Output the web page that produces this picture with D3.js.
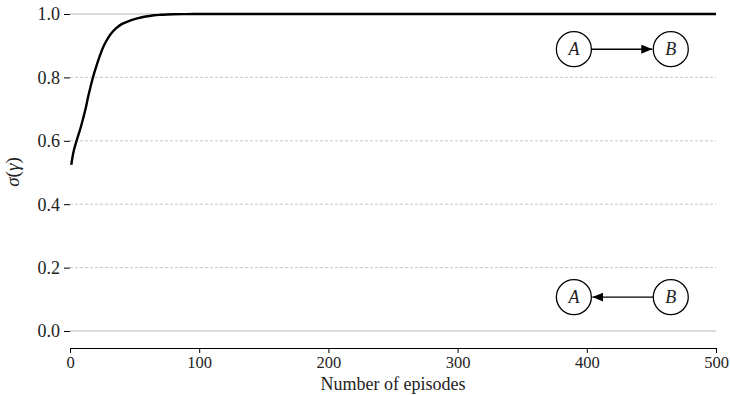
<!DOCTYPE html>
<html><head><meta charset="utf-8">
<script src="https://cdn.jsdelivr.net/npm/d3@7"></script>
<style>body{margin:0;background:#fff}svg{display:block}text{font-family:"Liberation Serif",serif;}</style>
</head><body><svg id="c" width="730" height="395"></svg>
<script>
const episodes = [1,2,3,4,6,8,10,12,14,16,18,20,22,24,26,28,30,33,36,40,45,50,55,60,65,70,75,80,90,100,150,200,250,300,350,400,450,500];
const sigmaGamma = [0.524,0.55,0.57,0.585,0.612,0.638,0.668,0.70,0.738,0.772,0.803,0.83,0.855,0.878,0.898,0.914,0.928,0.944,0.956,0.968,0.977,0.984,0.989,0.993,0.996,0.9975,0.9985,0.9992,0.9997,1.0,1.0,1.0,1.0,1.0,1.0,1.0,1.0,1.0];
const xTicks = [0,100,200,300,400,500];
const yTicks = [0.0,0.2,0.4,0.6,0.8,1.0];
const graphs = [
  {y:0.889, from:"A", to:"B"},
  {y:0.107, from:"B", to:"A"}
];
const nodeX = {A:390, B:465};

const FONT = "'Liberation Serif', serif";
const svg = d3.select("#c");
const x = d3.scaleLinear().domain([0,500]).range([70,716]);
const y = d3.scaleLinear().domain([0,1]).range([331,14]);

const defs = svg.append("defs");
defs.append("marker").attr("id","arr").attr("viewBox","0 0 10 10").attr("refX",10).attr("refY",5)
  .attr("markerWidth",11).attr("markerHeight",9).attr("markerUnits","userSpaceOnUse").attr("orient","auto")
  .attr("preserveAspectRatio","none")
  .append("path").attr("d","M0,0L10,5L0,10Z").attr("fill","#000");

// grid
svg.append("g").selectAll("line").data(yTicks).join("line")
  .attr("x1",70).attr("x2",716).attr("y1",d=>y(d)).attr("y2",d=>y(d))
  .attr("stroke",d=>(d===0||d===1)?"#cfcfcf":"#b8b8b8")
  .attr("stroke-width",d=>(d===0||d===1)?1.3:0.8)
  .attr("stroke-dasharray",d=>(d===0||d===1)?null:"3,2");

// y axis
const ya = svg.append("g").attr("transform","translate(70,0)")
  .call(d3.axisLeft(y).tickValues(yTicks).tickFormat(d3.format(".1f")).tickSize(6).tickPadding(4));
ya.select(".domain").remove();
ya.selectAll("line").attr("stroke","#000").attr("stroke-width",1);
ya.selectAll("text").attr("font-size",18).attr("font-family",FONT).attr("fill","#222").attr("dy","0.33em");

// x axis
const xa = svg.append("g").attr("transform","translate(0,348)")
  .call(d3.axisBottom(x).tickValues(xTicks).tickSize(5).tickSizeOuter(0).tickPadding(3));
xa.select(".domain").attr("stroke","#000").attr("stroke-width",1.2).attr("d","M70,0.5H716");
xa.selectAll("line").attr("stroke","#000");
xa.selectAll("text").attr("font-size",16.5).attr("font-family",FONT).attr("fill","#222");

svg.append("text").attr("x",393).attr("y",390).attr("text-anchor","middle")
  .attr("font-size",18).attr("fill","#222").text("Number of episodes");

const yl = svg.append("text").attr("transform","translate(19,172) rotate(-90)")
  .attr("text-anchor","middle").attr("font-size",19).attr("fill","#222");
yl.append("tspan").attr("font-style","italic").text("σ");
yl.append("tspan").text("(");
yl.append("tspan").attr("font-style","italic").text("γ");
yl.append("tspan").text(")");

// curve
const data = episodes.map((e,i)=>({e, v:sigmaGamma[i]}));
svg.append("path").datum(data)
  .attr("d", d3.line().x(d=>x(d.e)).y(d=>y(d.v)).curve(d3.curveMonotoneX))
  .attr("fill","none").attr("stroke","#000").attr("stroke-width",2.4);

// graphs
const r = 17.5;
graphs.forEach(g=>{
  const cy = y(g.y);
  const gg = svg.append("g");
  const x1 = x(nodeX[g.from]), x2 = x(nodeX[g.to]);
  const dir = Math.sign(x2-x1);
  gg.append("line").attr("x1",x1+dir*r).attr("x2",x2-dir*(r+1)).attr("y1",cy).attr("y2",cy)
    .attr("stroke","#000").attr("stroke-width",1.4).attr("marker-end","url(#arr)");
  ["A","B"].forEach(n=>{
    gg.append("circle").attr("cx",x(nodeX[n])).attr("cy",cy).attr("r",r)
      .attr("fill","#fff").attr("stroke","#000").attr("stroke-width",1.3);
    gg.append("text").attr("x",x(nodeX[n])).attr("y",cy+6).attr("text-anchor","middle")
      .attr("font-size",18).attr("font-style","italic").attr("fill","#222").text(n);
  });
});
</script></body></html>
